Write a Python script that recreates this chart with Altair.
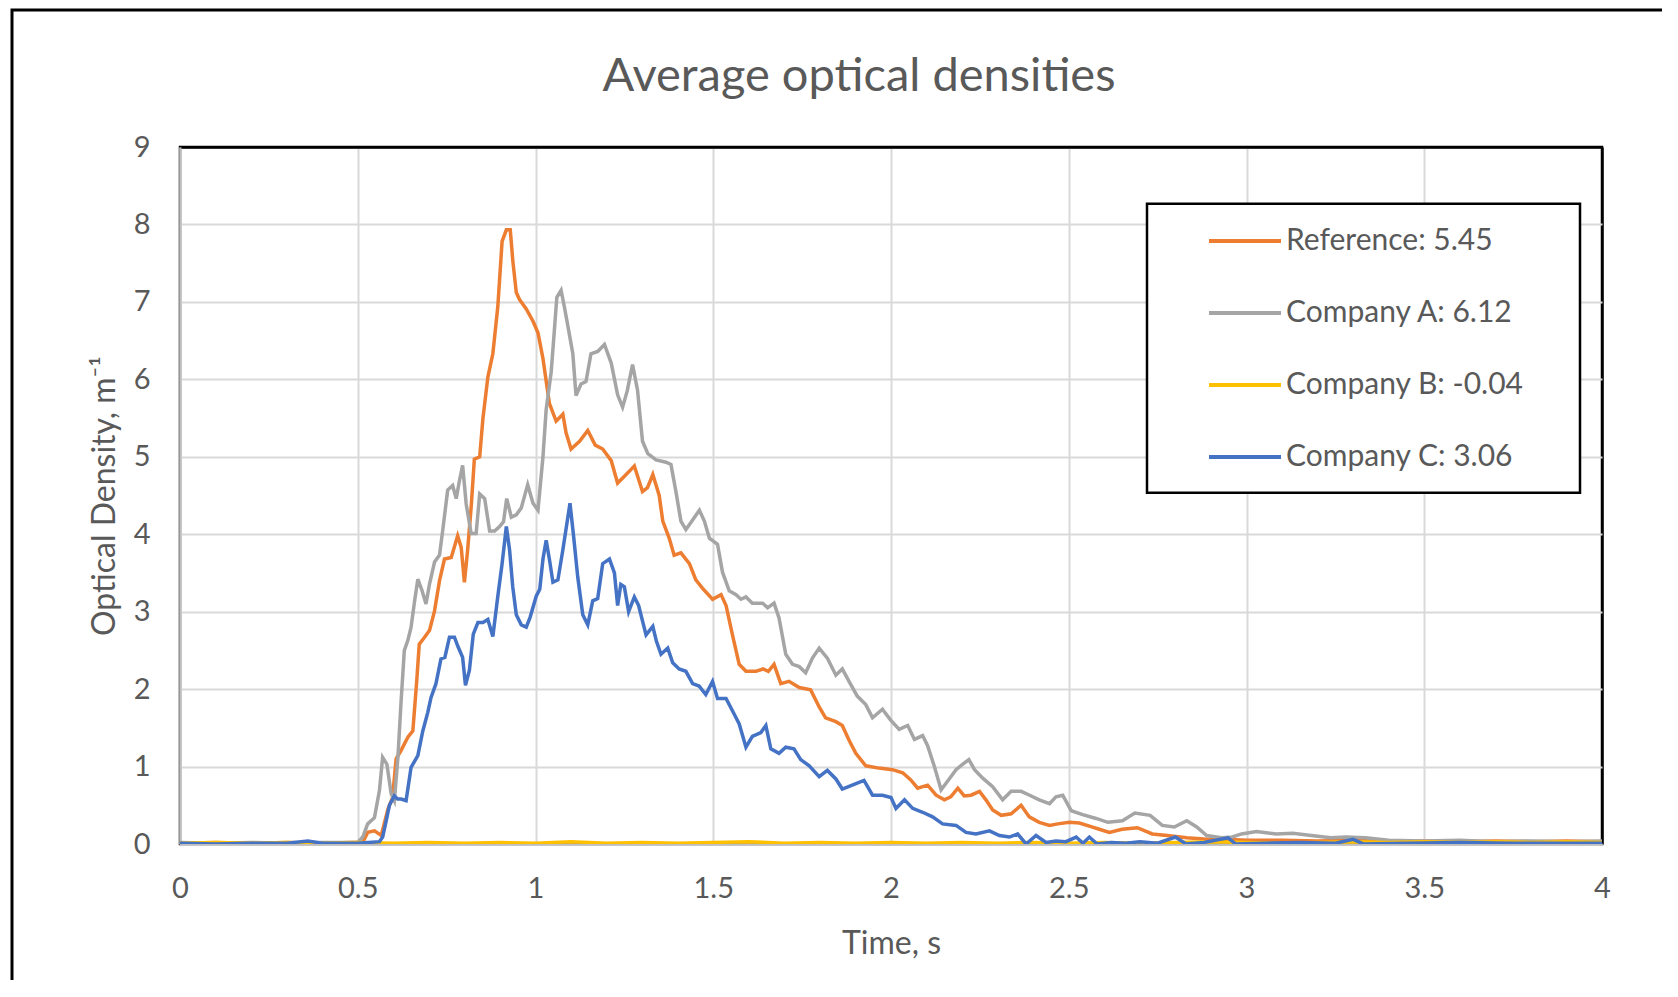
import altair as alt
import pandas as pd

series_names = ["Reference: 5.45", "Company A: 6.12", "Company B: -0.04", "Company C: 3.06"]
series_colors = ["#ED7D31", "#A5A5A5", "#FFC000", "#4472C4"]

x_ticks = [0, 0.5, 1, 1.5, 2, 2.5, 3, 3.5, 4]
y_ticks = [0, 1, 2, 3, 4, 5, 6, 7, 8, 9]

# (time s, optical density 1/m)
ref_points = [
    (0, 0.01), (0.1, 0.02), (0.2, 0.01), (0.3, 0.02), (0.4, 0.01), (0.48, 0.02), (0.514, 0.02),
    (0.528, 0.15), (0.547, 0.17), (0.566, 0.11), (0.585, 0.45), (0.598, 0.60), (0.608, 1.10),
    (0.622, 1.21), (0.641, 1.38), (0.655, 1.46), (0.666, 2.11), (0.673, 2.58), (0.688, 2.67),
    (0.702, 2.76), (0.716, 3.01), (0.730, 3.40), (0.744, 3.68), (0.763, 3.70), (0.781, 3.98),
    (0.791, 3.83), (0.800, 3.38), (0.809, 3.79), (0.819, 4.35), (0.828, 4.97), (0.843, 5.00),
    (0.852, 5.49), (0.866, 6.03), (0.880, 6.33), (0.894, 6.94), (0.906, 7.78), (0.918, 7.93),
    (0.929, 7.93), (0.936, 7.54), (0.946, 7.12), (0.955, 7.03), (0.974, 6.91), (0.993, 6.75),
    (1.007, 6.60), (1.021, 6.27), (1.039, 5.69), (1.058, 5.46), (1.077, 5.55), (1.086, 5.31),
    (1.100, 5.10), (1.124, 5.20), (1.147, 5.34), (1.168, 5.15), (1.189, 5.10), (1.213, 4.95),
    (1.231, 4.66), (1.255, 4.77), (1.278, 4.88), (1.301, 4.55), (1.315, 4.60), (1.330, 4.77),
    (1.348, 4.50), (1.358, 4.17), (1.376, 3.95), (1.390, 3.73), (1.409, 3.76), (1.433, 3.62),
    (1.451, 3.41), (1.470, 3.30), (1.498, 3.16), (1.522, 3.22), (1.536, 3.08), (1.554, 2.70),
    (1.573, 2.32), (1.592, 2.23), (1.620, 2.23), (1.640, 2.26), (1.655, 2.23), (1.671, 2.32),
    (1.690, 2.07), (1.713, 2.10), (1.742, 2.02), (1.774, 1.99), (1.798, 1.77), (1.816, 1.63),
    (1.845, 1.58), (1.863, 1.53), (1.882, 1.34), (1.901, 1.17), (1.929, 1.01), (1.966, 0.98),
    (2.004, 0.96), (2.033, 0.92), (2.055, 0.83), (2.075, 0.72), (2.103, 0.76), (2.127, 0.63),
    (2.150, 0.57), (2.168, 0.61), (2.188, 0.72), (2.206, 0.62), (2.225, 0.63), (2.249, 0.68),
    (2.267, 0.57), (2.286, 0.44), (2.310, 0.37), (2.338, 0.39), (2.366, 0.50), (2.389, 0.35),
    (2.417, 0.28), (2.446, 0.24), (2.469, 0.26), (2.502, 0.28), (2.530, 0.27), (2.558, 0.23),
    (2.586, 0.19), (2.614, 0.15), (2.650, 0.19), (2.693, 0.21), (2.735, 0.13), (2.777, 0.11),
    (2.832, 0.08), (2.888, 0.06), (2.944, 0.06), (3.0, 0.05), (3.1, 0.05), (3.2, 0.04),
    (3.3, 0.05), (3.4, 0.03), (3.5, 0.04), (3.6, 0.03), (3.7, 0.04), (3.8, 0.03), (3.9, 0.04),
    (4.0, 0.03),
]

a_points = [
    (0, 0.02), (0.1, 0.01), (0.2, 0.02), (0.3, 0.01), (0.4, 0.02), (0.5, 0.02), (0.514, 0.09),
    (0.528, 0.26), (0.547, 0.34), (0.561, 0.69), (0.570, 1.12), (0.582, 1.03), (0.594, 0.65),
    (0.603, 0.56), (0.613, 1.12), (0.622, 1.85), (0.631, 2.50), (0.641, 2.63), (0.650, 2.80),
    (0.660, 3.14), (0.669, 3.42), (0.681, 3.27), (0.692, 3.10), (0.702, 3.36), (0.716, 3.64),
    (0.730, 3.73), (0.739, 4.05), (0.753, 4.57), (0.767, 4.63), (0.777, 4.46), (0.786, 4.69),
    (0.795, 4.89), (0.805, 4.39), (0.819, 4.01), (0.833, 4.01), (0.843, 4.52), (0.857, 4.46),
    (0.871, 4.04), (0.885, 4.04), (0.899, 4.10), (0.910, 4.16), (0.919, 4.46), (0.932, 4.22),
    (0.946, 4.25), (0.960, 4.34), (0.978, 4.64), (0.993, 4.40), (1.007, 4.31), (1.021, 5.00),
    (1.030, 5.61), (1.044, 6.09), (1.053, 6.63), (1.060, 7.06), (1.072, 7.15), (1.081, 6.94),
    (1.091, 6.69), (1.105, 6.33), (1.114, 5.79), (1.128, 5.94), (1.142, 5.97), (1.156, 6.33),
    (1.175, 6.36), (1.194, 6.45), (1.213, 6.21), (1.231, 5.80), (1.245, 5.64), (1.258, 5.85),
    (1.273, 6.19), (1.287, 5.86), (1.301, 5.20), (1.316, 5.04), (1.339, 4.96), (1.367, 4.93),
    (1.381, 4.90), (1.395, 4.55), (1.409, 4.17), (1.423, 4.06), (1.440, 4.17), (1.461, 4.31),
    (1.475, 4.17), (1.489, 3.95), (1.512, 3.87), (1.526, 3.51), (1.545, 3.27), (1.564, 3.22),
    (1.578, 3.16), (1.592, 3.19), (1.610, 3.11), (1.639, 3.11), (1.653, 3.05), (1.671, 3.11),
    (1.685, 2.92), (1.704, 2.45), (1.723, 2.32), (1.742, 2.29), (1.760, 2.21), (1.779, 2.40),
    (1.798, 2.53), (1.821, 2.40), (1.845, 2.18), (1.863, 2.26), (1.882, 2.10), (1.905, 1.91),
    (1.929, 1.80), (1.948, 1.63), (1.976, 1.74), (1.999, 1.60), (2.023, 1.48), (2.047, 1.53),
    (2.066, 1.35), (2.089, 1.40), (2.103, 1.27), (2.122, 1.00), (2.141, 0.70), (2.159, 0.81),
    (2.183, 0.96), (2.202, 1.03), (2.219, 1.09), (2.235, 0.96), (2.258, 0.85), (2.286, 0.74),
    (2.314, 0.57), (2.338, 0.68), (2.366, 0.68), (2.390, 0.63), (2.417, 0.57), (2.446, 0.52),
    (2.464, 0.61), (2.483, 0.63), (2.507, 0.43), (2.539, 0.38), (2.577, 0.33), (2.610, 0.28),
    (2.651, 0.30), (2.686, 0.40), (2.729, 0.37), (2.763, 0.24), (2.797, 0.22), (2.832, 0.30),
    (2.860, 0.22), (2.888, 0.11), (2.930, 0.08), (2.960, 0.09), (2.986, 0.13), (3.028, 0.16),
    (3.084, 0.13), (3.130, 0.14), (3.182, 0.11), (3.237, 0.08), (3.280, 0.09), (3.335, 0.08),
    (3.400, 0.05), (3.5, 0.04), (3.6, 0.05), (3.7, 0.03), (3.8, 0.04), (3.9, 0.03), (4.0, 0.04),
]

b_points = [
    (0, 0.01), (0.1, 0.02), (0.2, 0.01), (0.3, 0.02), (0.4, 0.01), (0.5, 0.02), (0.6, 0.01),
    (0.7, 0.02), (0.8, 0.01), (0.9, 0.02), (1.0, 0.01), (1.1, 0.03), (1.2, 0.01), (1.3, 0.02),
    (1.4, 0.01), (1.5, 0.02), (1.6, 0.03), (1.7, 0.01), (1.8, 0.02), (1.9, 0.01), (2.0, 0.02),
    (2.1, 0.01), (2.2, 0.02), (2.3, 0.01), (2.4, 0.02), (2.5, 0.01), (2.6, 0.02), (2.7, 0.01),
    (2.8, 0.02), (2.9, 0.03), (3.0, 0.02), (3.1, 0.01), (3.2, 0.02), (3.3, 0.03), (3.4, 0.02),
    (3.5, 0.03), (3.6, 0.02), (3.7, 0.03), (3.8, 0.02), (3.9, 0.03), (4.0, 0.02),
]

c_points = [
    (0, 0.01), (0.1, 0.00), (0.2, 0.01), (0.3, 0.01), (0.36, 0.04), (0.4, 0.01), (0.5, 0.01),
    (0.561, 0.03), (0.570, 0.09), (0.580, 0.30), (0.589, 0.50), (0.603, 0.62), (0.612, 0.58),
    (0.622, 0.58), (0.636, 0.56), (0.650, 0.99), (0.669, 1.14), (0.683, 1.46), (0.697, 1.70),
    (0.706, 1.89), (0.720, 2.07), (0.734, 2.39), (0.745, 2.41), (0.758, 2.67), (0.772, 2.67),
    (0.781, 2.56), (0.795, 2.41), (0.803, 2.05), (0.814, 2.24), (0.825, 2.71), (0.838, 2.86),
    (0.852, 2.86), (0.866, 2.90), (0.880, 2.68), (0.894, 3.20), (0.906, 3.62), (0.918, 4.10),
    (0.927, 3.80), (0.936, 3.32), (0.946, 2.96), (0.960, 2.83), (0.974, 2.80), (0.985, 2.93),
    (1.002, 3.20), (1.012, 3.29), (1.021, 3.68), (1.030, 3.92), (1.039, 3.68), (1.049, 3.38),
    (1.063, 3.41), (1.077, 3.80), (1.091, 4.22), (1.097, 4.40), (1.107, 3.98), (1.119, 3.44),
    (1.133, 2.96), (1.147, 2.83), (1.161, 3.14), (1.175, 3.17), (1.189, 3.62), (1.208, 3.68),
    (1.222, 3.50), (1.231, 3.08), (1.240, 3.35), (1.250, 3.32), (1.262, 3.00), (1.278, 3.19),
    (1.290, 3.08), (1.311, 2.70), (1.330, 2.81), (1.340, 2.62), (1.353, 2.45), (1.372, 2.53),
    (1.386, 2.34), (1.404, 2.26), (1.423, 2.23), (1.442, 2.07), (1.460, 2.04), (1.479, 1.93),
    (1.498, 2.10), (1.512, 1.88), (1.536, 1.88), (1.554, 1.72), (1.573, 1.55), (1.592, 1.25),
    (1.610, 1.39), (1.634, 1.44), (1.648, 1.53), (1.662, 1.23), (1.685, 1.17), (1.704, 1.25),
    (1.727, 1.23), (1.746, 1.09), (1.770, 1.01), (1.798, 0.87), (1.821, 0.95), (1.845, 0.84),
    (1.863, 0.71), (1.891, 0.76), (1.924, 0.82), (1.948, 0.63), (1.976, 0.63), (2.000, 0.60),
    (2.014, 0.46), (2.038, 0.57), (2.061, 0.46), (2.089, 0.41), (2.117, 0.35), (2.145, 0.26),
    (2.183, 0.24), (2.211, 0.15), (2.239, 0.13), (2.277, 0.17), (2.305, 0.11), (2.333, 0.09),
    (2.356, 0.13), (2.380, 0.00), (2.408, 0.11), (2.436, 0.02), (2.464, 0.04), (2.492, 0.03),
    (2.521, 0.09), (2.540, 0.01), (2.558, 0.09), (2.580, 0.00), (2.620, 0.02), (2.660, 0.01),
    (2.700, 0.03), (2.750, 0.01), (2.800, 0.09), (2.830, 0.00), (2.880, 0.02), (2.948, 0.08),
    (2.970, 0.00), (3.050, 0.01), (3.150, 0.02), (3.250, 0.01), (3.300, 0.06), (3.330, 0.00),
    (3.450, 0.01), (3.600, 0.02), (3.750, 0.01), (3.900, 0.01), (4.0, 0.01),
]

rows = []
for name, pts in zip(series_names, [ref_points, a_points, b_points, c_points]):
    for t, v in pts:
        rows.append({"series": name, "time": t, "od": v})
df = pd.DataFrame(rows)

W, H = 1422, 697
FONT = "Lato"
GREY_TEXT = "#595959"
GRID = "#d9d9d9"

lines = alt.Chart(df).mark_line(strokeWidth=3.5, clip=True).encode(
    x=alt.X(
        "time:Q",
        scale=alt.Scale(domain=[0, 4], nice=False),
        axis=alt.Axis(
            values=x_ticks, format=".1~f", title="Time, s", labelFlush=False,
            titleY=109, titleBaseline="alphabetic",
            gridColor={"condition": {"test": "datum.value >= 4", "value": "black"}, "value": GRID},
            gridWidth={"condition": {"test": "datum.value >= 4", "value": 2.5}, "value": 2},
        ),
    ),
    y=alt.Y(
        "od:Q",
        scale=alt.Scale(domain=[0, 9], nice=False),
        axis=alt.Axis(
            values=y_ticks, title="Optical Density, m\u207b\u00b9", labelFlush=False,
            titleX=-66, titleY=348.5, titleAngle=270, titleAlign="center",
            titleBaseline="alphabetic",
            gridColor={"condition": {"test": "datum.value >= 9", "value": "black"}, "value": GRID},
            gridWidth={"condition": {"test": "datum.value >= 9", "value": 2.5}, "value": 2},
        ),
    ),
    color=alt.Color(
        "series:N",
        scale=alt.Scale(domain=series_names, range=series_colors),
        legend=alt.Legend(
            title=None, orient="none", legendX=967, legendY=56, padding=0,
            symbolType="stroke", symbolStrokeWidth=4,
            symbolSize=5184, symbolOffset=60, labelOffset=3, rowPadding=19,
            labelFont=FONT, labelFontSize=30, labelColor=GREY_TEXT, labelLimit=600,
        ),
    ),
)

# decorative frames: whole-chart border and the legend's white box
frame = alt.Chart(pd.DataFrame({"f": [0]})).mark_rect(
    filled=False, stroke="black", strokeWidth=3, clip=False
).encode(
    x=alt.value(-168), x2=alt.value(W + 200), y=alt.value(-137), y2=alt.value(H + 300)
)

legend_box = alt.Chart(pd.DataFrame({"f": [0]})).mark_rect(
    fill="white", stroke="black", strokeWidth=2.5, clip=False
).encode(
    x=alt.value(967), x2=alt.value(1400), y=alt.value(56.7), y2=alt.value(345.7)
)

chart = alt.layer(frame, lines, legend_box).properties(
    width=W,
    height=H,
    autosize=alt.AutoSizeParams(type="none"),
    padding={"left": 172, "top": 139, "right": 60, "bottom": 136},
    background="white",
    title=alt.TitleParams(
        "Average optical densities", font=FONT, fontSize=47, fontWeight="normal",
        color=GREY_TEXT, anchor="middle", dx=-32, offset=0, dy=92,
    ),
).configure_view(
    stroke="black", strokeWidth=2.5
).configure_axis(
    labelFont=FONT, labelFontSize=29, labelColor=GREY_TEXT, labelPadding=30,
    titleFont=FONT, titleFontSize=32, titleColor=GREY_TEXT, titleFontWeight="normal",
    ticks=False, domainColor="#bfbfbf", domainWidth=2,
)

chart.save("out.html", embed_options={"renderer": "svg", "actions": False})
